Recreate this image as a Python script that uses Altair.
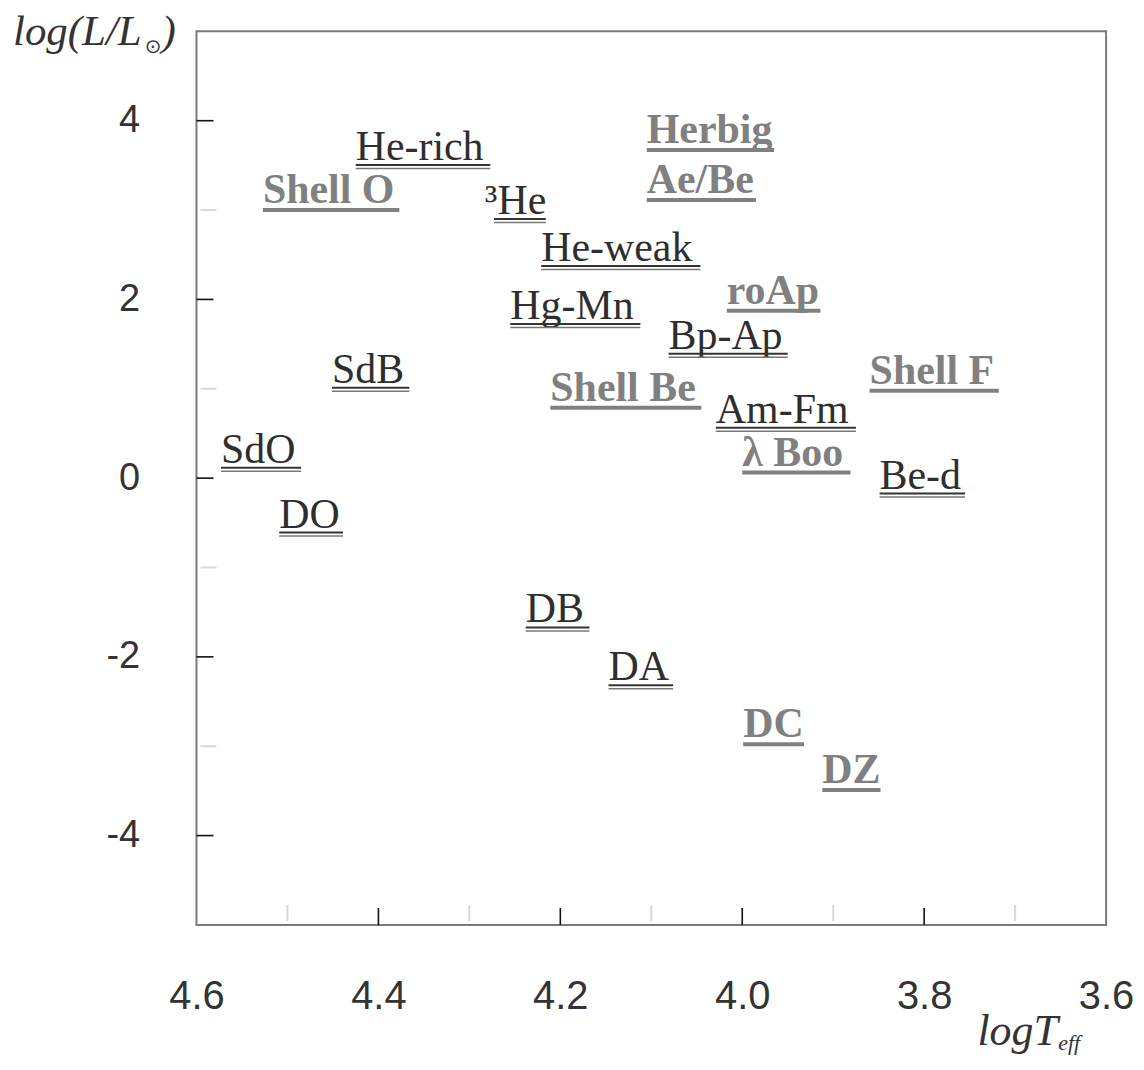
import altair as alt
import pandas as pd

# ---- data ----
labels = ["He-rich", "Shell O", "³He", "Herbig", "Ae/Be", "He-weak", "Hg-Mn", "roAp",
          "Bp-Ap", "Shell Be", "Shell F", "Am-Fm", "λ Boo", "Be-d", "SdB", "SdO",
          "DO", "DB", "DA", "DC", "DZ"]
styles = ["scan", "bold", "scan", "bold", "bold", "scan", "scan", "bold",
          "scan", "bold", "bold", "scan", "bold", "scan", "scan", "scan",
          "scan", "scan", "scan", "bold", "bold"]
log_teff = [4.425, 4.527, 4.283, 4.105, 4.105, 4.221, 4.255, 4.017,
            4.081, 4.211, 3.860, 4.029, 4.000, 3.849, 4.451, 4.573,
            4.509, 4.238, 4.147, 3.999, 3.912]
log_lum = [3.559, 3.078, 2.955, 3.749, 3.190, 2.430, 1.782, 1.950,
           1.447, 0.866, 1.056, 0.620, 0.140, -0.117, 1.067, 0.173,
           -0.553, -1.615, -2.263, -2.899, -3.413]
under_start = [4.425, 4.527, 4.273, 4.105, 4.105, 4.221, 4.255, 4.017,
               4.081, 4.211, 3.860, 4.029, 4.000, 3.849, 4.451, 4.573,
               4.509, 4.238, 4.147, 3.999, 3.912]
under_end = [4.277, 4.377, 4.216, 3.965, 3.985, 4.046, 4.112, 3.914,
             3.950, 4.045, 3.718, 3.875, 3.881, 3.755, 4.366, 4.485,
             4.439, 4.168, 4.076, 3.932, 3.848]

x_tick_labels = [4.6, 4.4, 4.2, 4.0, 3.8, 3.6]
y_tick_labels = [4, 2, 0, -2, -4]
x_major_ticks = [4.4, 4.2, 4.0, 3.8]
y_major_ticks = [4, 2, 0, -2, -4]
x_minor_ticks = [4.5, 4.3, 4.1, 3.9, 3.7]
y_minor_ticks = [3, 1, -1, -3]

W, H = 912, 896

df = pd.DataFrame({"label": labels, "style": styles, "teff": log_teff, "lum": log_lum,
                   "u0": under_start, "u1": under_end})

xscale = alt.Scale(domain=[3.6, 4.6], reverse=True, nice=False, zero=False)
yscale = alt.Scale(domain=[-5, 5], nice=False, zero=False)

x_axis = alt.Axis(values=x_tick_labels, labelExpr="format(datum.value, '.1f')", ticks=False,
                  tickSize=0, domain=False, grid=False, labelFontSize=40,
                  labelFont="Liberation Sans", labelColor="#333333", labelPadding=52,
                  labelFlush=False, labelOverlap=False, title=None)
y_axis = alt.Axis(values=y_tick_labels, labelExpr="'' + datum.value", ticks=False,
                  tickSize=0, domain=False, grid=False, labelFontSize=38,
                  labelFont="Liberation Sans", labelColor="#333333", labelPadding=57,
                  labelOverlap=False, title=None)


def X(field):
    return alt.X(field, type="quantitative", scale=xscale, axis=x_axis)


def Y(field):
    return alt.Y(field, type="quantitative", scale=yscale, axis=y_axis)


base = alt.Chart(df)
scan = base.transform_filter(alt.datum.style == "scan")
bold = base.transform_filter(alt.datum.style == "bold")

text_scan = scan.mark_text(align="left", baseline="alphabetic", font="Liberation Serif",
                           fontSize=42, color="#2e2e2e").encode(
    x=X("teff"), y=Y("lum"), text="label:N")
text_bold = bold.mark_text(align="left", baseline="alphabetic", font="Liberation Serif",
                           fontSize=42, fontWeight="bold", color="#808080").encode(
    x=X("teff"), y=Y("lum"), text="label:N")

ul_bold = bold.mark_rule(color="#808080", strokeWidth=4, yOffset=7).encode(
    x=X("u0"), x2="u1:Q", y=Y("lum"))
ul_scan1 = scan.mark_rule(color="#333333", strokeWidth=2, yOffset=5).encode(
    x=X("u0"), x2="u1:Q", y=Y("lum"))
ul_scan2 = scan.mark_rule(color="#777777", strokeWidth=1.5, yOffset=8.5).encode(
    x=X("u0"), x2="u1:Q", y=Y("lum"))

ymaj = alt.Chart(pd.DataFrame({"v": y_major_ticks})).mark_rule(color="#111111", strokeWidth=1.6).encode(
    y=Y("v"), x=alt.value(0), x2=alt.value(17))
xmaj = alt.Chart(pd.DataFrame({"v": x_major_ticks})).mark_rule(color="#111111", strokeWidth=1.6).encode(
    x=X("v"), y=alt.value(H), y2=alt.value(H - 17))
ymin = alt.Chart(pd.DataFrame({"v": y_minor_ticks})).mark_rule(color="#d8d8d8", strokeWidth=2).encode(
    y=Y("v"), x=alt.value(4), x2=alt.value(20))
xmin = alt.Chart(pd.DataFrame({"v": x_minor_ticks})).mark_rule(color="#d8d8d8", strokeWidth=2).encode(
    x=X("v"), y=alt.value(H - 4), y2=alt.value(H - 20))


def note(txt, x, y, size, style="italic", color="#333333", font="Liberation Serif"):
    return alt.Chart(pd.DataFrame({"t": [txt]})).mark_text(
        align="left", baseline="alphabetic", font=font, fontSize=size,
        fontStyle=style, color=color).encode(x=alt.value(x), y=alt.value(y), text="t:N")


t1 = note("log(L/L", -184, 14, 43)
t2 = note("⊙", -52, 22, 20, style="normal", font="DejaVu Sans")
t3 = note(")", -35, 14, 43)
t4 = note("logT", 783, 1016, 44)
t5 = note("eff", 864, 1021, 22)

chart = alt.layer(text_scan, text_bold, ul_bold, ul_scan1, ul_scan2,
                  ymaj, xmaj, ymin, xmin, t1, t2, t3, t4, t5).properties(
    width=W, height=H,
    autosize=alt.AutoSizeParams(type="none"),
    padding={"left": 189, "top": 22, "right": 30, "bottom": 130},
).configure_view(stroke="#7a7a7a", strokeWidth=2)

chart.save("out.html", embed_options={"renderer": "svg", "actions": False})
